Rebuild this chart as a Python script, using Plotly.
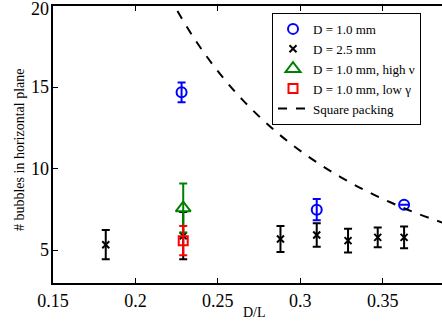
import plotly.graph_objects as go

# D = 1.0 mm
x_d1 = [0.228, 0.310, 0.363]
y_d1 = [14.7, 7.5, 7.8]
e_d1 = [0.6, 0.65, 0.0]

# D = 2.5 mm
x_d25 = [0.182, 0.229, 0.288, 0.310, 0.329, 0.347, 0.363]
y_d25 = [5.35, 5.9, 5.7, 5.95, 5.6, 5.8, 5.8]
e_d25 = [0.9, 1.45, 0.8, 0.72, 0.73, 0.6, 0.67]

# D = 1.0 mm, high nu
x_nu = [0.229]
y_nu = [7.6]
e_nu = [1.5]

# D = 1.0 mm, low gamma
x_gam = [0.229]
y_gam = [5.6]
e_gam = [0.9]

# Square packing
x_sq = [0.220, 0.235, 0.250, 0.265, 0.280, 0.295, 0.310, 0.325, 0.340, 0.355, 0.370, 0.390]
y_sq = [20.66, 18.11, 16.00, 14.24, 12.76, 11.49, 10.41, 9.47, 8.65, 7.94, 7.30, 6.57]

xticks = [0.15, 0.2, 0.25, 0.3, 0.35]
xticklabels = ["0.15", "0.2", "0.25", "0.3", "0.35"]
yticks = [5, 10, 15, 20]
yticklabels = ["5", "10", "15", "20"]

font = "Liberation Serif"

fig = go.Figure()
fig.add_trace(go.Scatter(
    x=x_d1, y=y_d1, mode="markers", name="D = 1.0 mm",
    marker=dict(symbol="circle-open", size=10, color="#0000ff", line=dict(width=2)),
    error_y=dict(type="data", array=e_d1, color="#0000ff", thickness=2, width=4),
))
fig.add_trace(go.Scatter(
    x=x_d25, y=y_d25, mode="markers", name="D = 2.5 mm",
    marker=dict(symbol="x-thin-open", size=7, color="black", line=dict(width=2, color="black")),
    error_y=dict(type="data", array=e_d25, color="black", thickness=2, width=4),
))
fig.add_trace(go.Scatter(
    x=x_nu, y=y_nu, mode="markers", name="D = 1.0 mm, high ν",
    marker=dict(symbol="triangle-up-open", size=13, color="#008000", line=dict(width=2)),
    error_y=dict(type="data", array=e_nu, color="#008000", thickness=2, width=4),
))
fig.add_trace(go.Scatter(
    x=x_gam, y=y_gam, mode="markers", name="D = 1.0 mm, low γ",
    marker=dict(symbol="square-open", size=9, color="#ff0000", line=dict(width=2)),
    error_y=dict(type="data", array=e_gam, color="#ff0000", thickness=2, width=4),
))
fig.add_trace(go.Scatter(
    x=x_sq, y=y_sq, mode="lines", name="Square packing", line_shape="spline",
    line=dict(color="black", width=2, dash="dash"),
))

annotations = [
    dict(text="D/L", xref="paper", yref="paper", x=0.519, y=-0.106,
         xanchor="center", yanchor="middle", showarrow=False,
         font=dict(family=font, size=14)),
    dict(text="# bubbles in horizontal plane", xref="paper", yref="paper",
         x=-0.0874, y=0.48, xanchor="center", yanchor="middle", textangle=-90,
         showarrow=False, font=dict(family=font, size=14)),
]
for v, t in zip(yticks, yticklabels):
    annotations.append(dict(
        text=t, xref="paper", yref="y", x=-0.006, y=v,
        xanchor="right", yanchor="middle", showarrow=False,
        yshift=-3 if v == 20 else 0,
        font=dict(family=font, size=18),
    ))

fig.update_layout(
    width=442, height=322,
    margin=dict(l=53, r=0, t=6, b=39, autoexpand=False),
    plot_bgcolor="white", paper_bgcolor="white",
    font=dict(family=font, color="black", size=15),
    showlegend=True,
    legend=dict(
        x=0.563, y=0.975, xanchor="left", yanchor="top",
        bordercolor="black", borderwidth=1, bgcolor="white",
        font=dict(family=font, size=13), tracegroupgap=0, itemwidth=30,
    ),
    xaxis=dict(
        range=[0.15, 0.386], tickvals=xticks, ticktext=xticklabels,
        ticks="inside", ticklen=5, tickwidth=1, tickcolor="black",
        showline=True, linecolor="black", linewidth=2, mirror="ticks",
        showgrid=False, zeroline=False, automargin=False,
        tickfont=dict(family=font, size=18),
    ),
    yaxis=dict(
        range=[3, 20], tickvals=yticks, showticklabels=False,
        ticks="inside", ticklen=5, tickwidth=1, tickcolor="black",
        showline=True, linecolor="black", linewidth=2,
        showgrid=False, zeroline=False, automargin=False,
    ),
    annotations=annotations,
)

fig.write_html(
    "out.html",
    config={"displayModeBar": False},
    post_script="document.body.style.margin='0';document.body.style.overflow='hidden';",
)
